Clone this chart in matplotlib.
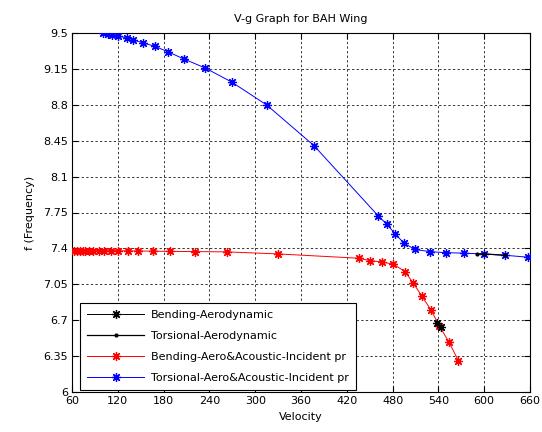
import matplotlib
matplotlib.use("Agg")
import matplotlib.pyplot as plt

# Torsional mode, aero + acoustic incident pressure
tors_ac_v = [100.2, 106.8, 112.8, 119.9, 131.7, 139.5, 153.4, 168.7, 186.2, 207.1,
             234.2, 269.2, 315.1, 377.0, 461.3, 472.3, 483.2, 495.0, 509.4, 529.0,
             549.6, 574.0, 599.8, 627.3, 657.8]
tors_ac_f = [9.500, 9.490, 9.477, 9.470, 9.454, 9.435, 9.403, 9.370, 9.315, 9.245,
             9.160, 9.022, 8.798, 8.402, 7.716, 7.636, 7.544, 7.450, 7.390, 7.368,
             7.359, 7.353, 7.346, 7.333, 7.314]

# Bending mode, aero + acoustic incident pressure
bend_ac_v = [62.6, 67.0, 70.5, 74.0, 77.4, 82.6, 87.9, 94.9, 101.9, 110.7, 120.7,
             133.0, 146.1, 166.5, 188.4, 221.1, 262.7, 330.3, 436.4, 450.4, 465.7,
             481.0, 496.3, 507.2, 518.1, 530.3, 541.2, 554.0, 566.1]
bend_ac_f = [7.378, 7.378, 7.378, 7.378, 7.378, 7.378, 7.378, 7.378, 7.378, 7.378,
             7.377, 7.376, 7.375, 7.373, 7.371, 7.369, 7.366, 7.346, 7.304, 7.281,
             7.268, 7.246, 7.174, 7.060, 6.937, 6.800, 6.644, 6.485, 6.306]

# Purely aerodynamic modes
bend_aero_v = [538.0, 543.0]
bend_aero_f = [6.670, 6.630]
tors_aero_v = [590.0, 600.0, 627.0]
tors_aero_f = [7.345, 7.346, 7.333]

x_ticks = [60, 120, 180, 240, 300, 360, 420, 480, 540, 600, 660]
y_ticks = [6, 6.35, 6.7, 7.05, 7.4, 7.75, 8.1, 8.45, 8.8, 9.15, 9.5]
y_tick_labels = ["6", "6.35", "6.7", "7.05", "7.4", "7.75", "8.1", "8.45", "8.8", "9.15", "9.5"]

plt.rcParams["font.family"] = ["DejaVu Sans"]
plt.rcParams["font.size"] = 8

fig = plt.figure(figsize=(5.42, 4.32), dpi=100)
ax = fig.add_axes([72 / 542, 40 / 432, 458 / 542, 359 / 432])

star = (8, 2, 0)
l1, = ax.plot(bend_aero_v, bend_aero_f, color="black", lw=0.7, marker=star,
              ms=6.5, mew=0.9, zorder=5, label="Bending-Aerodynamic")
l2, = ax.plot(tors_aero_v, tors_aero_f, color="black", lw=0.9, marker=".",
              ms=4, zorder=5, label="Torsional-Aerodynamic")
l3, = ax.plot(bend_ac_v, bend_ac_f, color="red", lw=0.7, marker=star,
              ms=6.5, mew=0.9, zorder=3, label="Bending-Aero&Acoustic-Incident pr")
l4, = ax.plot(tors_ac_v, tors_ac_f, color="blue", lw=0.7, marker=star,
              ms=6.5, mew=0.9, zorder=3, label="Torsional-Aero&Acoustic-Incident pr")

ax.set_xlim(60, 660)
ax.set_ylim(6, 9.5)
ax.set_xticks(x_ticks)
ax.set_yticks(y_ticks)
ax.set_yticklabels(y_tick_labels)
ax.tick_params(direction="in", top=True, right=True, length=4, width=0.8,
               labelsize=8, colors="black", pad=3)
ax.grid(True, color="black", linestyle=(0, (3, 3)), linewidth=0.55)
ax.set_axisbelow(True)
for s in ax.spines.values():
    s.set_linewidth(0.8)

ax.set_title("V-g Graph for BAH Wing", fontsize=8, pad=8)
ax.set_xlabel("Velocity", fontsize=8, labelpad=4)
ax.set_ylabel("f (Frequency)", fontsize=8, labelpad=6)

leg = ax.legend(handles=[l1, l2, l3, l4], loc="lower left",
                bbox_to_anchor=(8 / 458, 2 / 359), borderaxespad=0,
                fancybox=False, edgecolor="black", framealpha=1,
                fontsize=8, handlelength=5.2, handletextpad=0.6,
                labelspacing=1.0, borderpad=0.6)
leg.get_frame().set_linewidth(0.8)

fig.savefig("out.png", dpi=100, facecolor="white")
